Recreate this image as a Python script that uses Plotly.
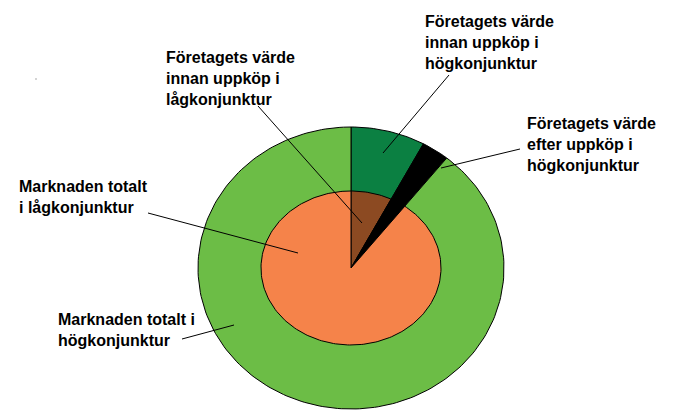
import math
import plotly.graph_objects as go

# outer ring = högkonjunktur, inner ring = lågkonjunktur (percent of the circle)
outer_labels = ['Företagets värde innan uppköp i högkonjunktur',
                'Företagets värde efter uppköp i högkonjunktur',
                'Marknaden totalt i högkonjunktur']
outer_values = [8.4, 3.0, 88.6]
outer_colors = ['#0B8042', '#000000', '#6CBD46']

inner_labels = ['Företagets värde innan uppköp i lågkonjunktur',
                'Företagets värde efter uppköp i lågkonjunktur',
                'Marknaden totalt i lågkonjunktur']
inner_values = [8.4, 3.0, 88.6]
inner_colors = ['#8C4A22', '#000000', '#F5834A']

callout_texts = ['Företagets värde<br>innan uppköp i<br>högkonjunktur',
                 'Företagets värde<br>innan uppköp i<br>lågkonjunktur',
                 'Företagets värde<br>efter uppköp i<br>högkonjunktur',
                 'Marknaden totalt<br>i lågkonjunktur',
                 'Marknaden totalt i<br>högkonjunktur']

CX, CY = 351, 268


def wedge(start, end, rx, ry):
    """points of a pie wedge on an ellipse, angles in degrees clockwise from top"""
    xs, ys = [CX], [CY]
    steps = max(int(abs(end - start) / 1.5), 2)
    for i in range(steps + 1):
        a = math.radians(start + (end - start) * i / steps)
        r = 1 / math.sqrt((math.sin(a) / rx) ** 2 + (math.cos(a) / ry) ** 2)
        xs.append(CX + r * math.sin(a))
        ys.append(CY - r * math.cos(a))
    xs.append(CX)
    ys.append(CY)
    return xs, ys


def add_ring(fig, labels, values, colors, rx, ry):
    total = sum(values)
    angle = 0
    for lab, val, col in zip(labels, values, colors):
        span = val / total * 360
        xs, ys = wedge(angle, angle + span, rx, ry)
        fig.add_trace(go.Scatter(x=xs, y=ys, fill='toself', fillcolor=col,
                                 mode='lines', line=dict(color='black', width=1),
                                 name=lab, hoverinfo='name'))
        angle += span


fig = go.Figure()
add_ring(fig, outer_labels, outer_values, outer_colors, 153, 141)
add_ring(fig, inner_labels, inner_values, inner_colors, 90, 77)

# label positions (top-left) and leader lines
label_pos = [(423, 11), (164, 47), (525, 113), (17, 176), (56, 309)]
leaders = [((449, 75), (383, 153)),
           ((258, 106), (362, 223)),
           ((520, 149), (441, 168)),
           ((148, 213), (298, 253)),
           ((182, 339), (234, 325))]

for txt, (x, y) in zip(callout_texts, label_pos):
    fig.add_annotation(text='<b>' + txt.replace('<br>', '</b><br><b>') + '</b>',
                       x=x, y=y, xref='x', yref='y',
                       xanchor='left', yanchor='top', align='left',
                       showarrow=False,
                       font=dict(family='Liberation Sans, Arial', size=16,
                                 color='black'))

for (x0, y0), (x1, y1) in leaders:
    fig.add_shape(type='line', x0=x0, y0=y0, x1=x1, y1=y1, xref='x', yref='y',
                  line=dict(color='black', width=1))

# stray dot from the original drawing
fig.add_shape(type='rect', x0=35.5, y0=78.5, x1=36.5, y1=79.5, xref='x', yref='y',
              line=dict(width=0), fillcolor='#555555')

# the page body adds an 8px offset, so start the ranges at 8
fig.update_layout(width=677, height=420, margin=dict(l=0, r=0, t=0, b=0),
                  paper_bgcolor='white', plot_bgcolor='white', showlegend=False,
                  xaxis=dict(range=[8, 685], visible=False, fixedrange=True),
                  yaxis=dict(range=[428, 8], visible=False, fixedrange=True))

fig.write_html("out.html")
